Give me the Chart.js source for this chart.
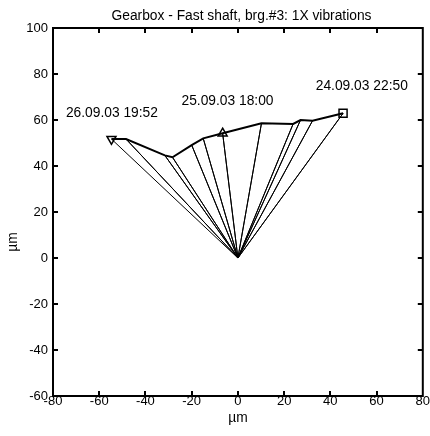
<!DOCTYPE html>
<html>
<head>
<meta charset="utf-8">
<script src="https://cdn.jsdelivr.net/npm/chart.js@4.4.1/dist/chart.umd.min.js"></script>
<style>
  html, body { margin: 0; padding: 0; background: #fff; }
  #wrap { width: 430px; height: 436px; }
</style>
</head>
<body>
<div id="wrap"><canvas id="c"></canvas></div>
<script>
// 1X vector tips in time order (first point = 24.09.03 22:50)
const vibX = [45.5, 32.3, 27.1, 23.9, 10.2, -6.6, -15.0, -20.0, -28.3, -31.6, -48.4, -54.7];
const vibY = [62.9, 59.7, 60.0, 58.3, 58.6, 54.2, 52.0, 49.1, 43.8, 44.6, 51.7, 51.7];

// which points get a marker
const markerAt = [0, 5, 11];
const markerStyle = ['rect', 'triangle', 'triangle'];
const markerRot = [0, 0, 180];

// date annotations
const dateLabels = ['24.09.03 22:50', '25.09.03 18:00', '26.09.03 19:52'];
const labelX = [53.6, -4.5, -54.5];
const labelY = [73.0, 66.5, 61.2];

const xTicks = [-80, -60, -40, -20, 0, 20, 40, 60, 80];
const yTicks = [-60, -40, -20, 0, 20, 40, 60, 80, 100];

const FONT = '"Liberation Sans", Arial, sans-serif';
const FSIZE = 13;     // tick labels
const TSIZE = 13.8;   // title and notes

const tips = vibX.map((x, i) => ({ x: x, y: vibY[i] }));
const spokes = tips.flatMap(p => [{ x: 0, y: 0 }, p]);

const radii = tips.map((p, i) => {
  const k = markerAt.indexOf(i);
  if (k < 0) return 0;
  return markerStyle[k] === 'rect' ? 5.7 : 5.2;
});
const styles = tips.map((p, i) => {
  const k = markerAt.indexOf(i);
  return k < 0 ? 'circle' : markerStyle[k];
});
const rots = tips.map((p, i) => {
  const k = markerAt.indexOf(i);
  return k < 0 ? 0 : markerRot[k];
});

// frame, inward ticks, title, axis labels, date texts
const decor = {
  id: 'decor',
  afterDraw(chart) {
    const { ctx, chartArea: a, scales } = chart;
    const sx = scales.x, sy = scales.y;
    ctx.save();
    ctx.strokeStyle = '#000';
    ctx.lineWidth = 2;
    ctx.strokeRect(a.left, a.top, a.right - a.left, a.bottom - a.top);

    const tl = 5;
    ctx.beginPath();
    xTicks.slice(1, -1).forEach(v => {
      const px = Math.round(sx.getPixelForValue(v));
      ctx.moveTo(px, a.bottom); ctx.lineTo(px, a.bottom - tl);
      ctx.moveTo(px, a.top); ctx.lineTo(px, a.top + tl);
    });
    yTicks.slice(1, -1).forEach(v => {
      const py = Math.round(sy.getPixelForValue(v));
      ctx.moveTo(a.left, py); ctx.lineTo(a.left + tl, py);
      ctx.moveTo(a.right, py); ctx.lineTo(a.right - tl, py);
    });
    ctx.stroke();

    ctx.fillStyle = '#000';
    ctx.font = TSIZE + 'px ' + FONT;
    ctx.textAlign = 'center';
    ctx.textBaseline = 'alphabetic';
    ctx.fillText('Gearbox - Fast shaft, brg.#3: 1X vibrations', 241.5, 19.5);

    dateLabels.forEach((t, i) => {
      ctx.fillText(t, sx.getPixelForValue(labelX[i]), sy.getPixelForValue(labelY[i]));
    });

    ctx.fillText('\u00b5m', (a.left + a.right) / 2, 422);

    ctx.translate(17, 242);
    ctx.rotate(-Math.PI / 2);
    ctx.fillText('\u00b5m', 0, 0);
    ctx.restore();
  }
};

new Chart(document.getElementById('c'), {
  type: 'scatter',
  data: {
    datasets: [
      {
        data: spokes,
        showLine: true,
        borderColor: '#000',
        borderWidth: 1,
        pointRadius: 0,
        order: 2
      },
      {
        data: tips,
        showLine: true,
        borderColor: '#000',
        borderWidth: 2,
        pointRadius: radii,
        pointStyle: styles,
        pointRotation: rots,
        pointBorderColor: '#000',
        pointBorderWidth: 1.5,
        pointBackgroundColor: 'rgba(0,0,0,0)',
        order: 1
      }
    ]
  },
  options: {
    responsive: true,
    maintainAspectRatio: false,
    animation: false,
    layout: { padding: { top: 28, right: 7, bottom: 0, left: 0 } },
    plugins: { legend: { display: false }, tooltip: { enabled: false }, title: { display: false } },
    scales: {
      x: {
        type: 'linear',
        min: -80, max: 80,
        grid: { display: false, drawTicks: false },
        border: { display: false },
        afterBuildTicks: s => { s.ticks = xTicks.map(v => ({ value: v })); },
        afterFit: s => { s.height = 40; },
        ticks: { color: '#000', font: { family: FONT, size: FSIZE }, padding: -2, maxRotation: 0 }
      },
      y: {
        type: 'linear',
        min: -60, max: 100,
        grid: { display: false, drawTicks: false },
        border: { display: false },
        afterBuildTicks: s => { s.ticks = yTicks.map(v => ({ value: v })); },
        afterFit: s => { s.width = 53; },
        ticks: { color: '#000', font: { family: FONT, size: FSIZE }, padding: 5 }
      }
    }
  },
  plugins: [decor]
});
</script>
</body>
</html>
